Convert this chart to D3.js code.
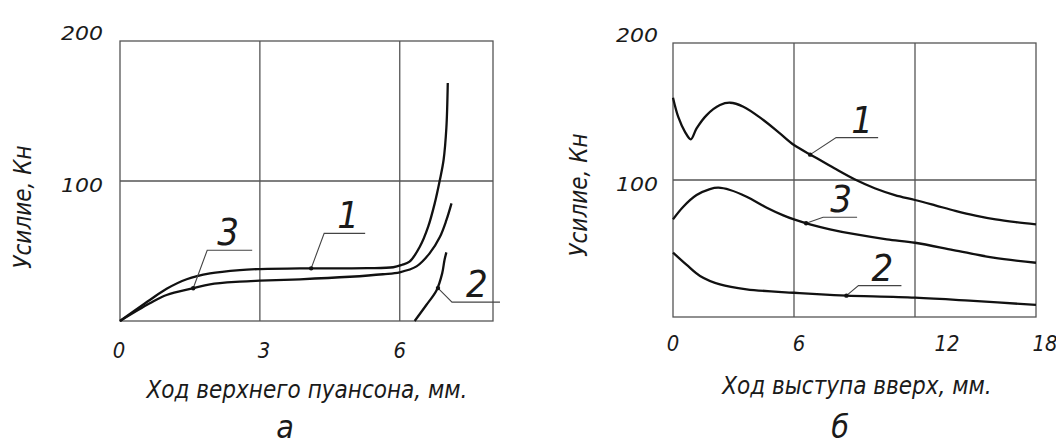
<!DOCTYPE html>
<html lang="ru">
<head>
    <meta charset="UTF-8">
    <title>Усилие — ход</title>
    <script src="https://d3js.org/d3.v7.min.js"></script>
    <style>
        body { margin: 0; background: #fff; }
        text { font-family: "DejaVu Sans Condensed", "DejaVu Sans", sans-serif; font-style: italic; fill: #1a1a1a; }
        .frame, .grid { stroke: #555; stroke-width: 1.3; fill: none; }
        .curve { stroke: #111; stroke-width: 2.3; fill: none; }
        .leader { stroke: #444; stroke-width: 1.1; fill: none; }
    </style>
</head>
<body>
    <div id="chart"></div>

    <script>
        // ----- data -----
        // panel а: ход верхнего пуансона (мм) -> усилие (кН)
        var aTicksX = [0, 3, 6];
        var aTicksY = [100, 200];
        var aCurve1 = [[0,0],[0.64,15],[1.0,23],[1.43,29.8],[1.93,34],[2.57,36.4],[3,37.1],[3.86,37.6],
                       [5.3,37.7],[5.86,38.4],[6.04,40],[6.21,42.4],[6.43,53],[6.61,67.4],[6.75,84],
                       [6.86,100.7],[6.94,115],[7.0,138],[7.03,170]];
        var aCurve2 = [[6.32,0],[6.57,11.4],[6.79,22],[6.91,34],[6.96,43.6],[7.0,49]];
        var aCurve3 = [[0,0],[0.64,12.6],[1.0,18.6],[1.57,23.4],[1.93,26.2],[2.57,28.1],[3,28.8],[3.86,29.8],
                       [4.93,31.6],[5.64,33.4],[6.0,34.8],[6.36,39],[6.64,48.3],[6.86,60],[7.0,72],[7.11,84]];

        // panel б: ход выступа вверх (мм) -> усилие (кН)
        var bTicksX = [0, 6, 12, 18];
        var bTicksY = [100, 200];
        var bCurve1 = [[0,160],[0.26,146],[0.6,135],[0.88,129.7],[1.17,137.7],[1.67,147.4],[2.33,154.7],
                       [2.83,156.4],[3.49,153.5],[4.48,143.8],[5.3,134],[6.0,125.5],[7,117],[8,108.5],
                       [9,100.5],[10,94],[11,89],[12,85.4],[13,81.5],[14,77.5],[15,74],[16,71.2],[17,69.2],[18,67.6]];
        var bCurve2 = [[0,47],[0.68,38],[1.34,30],[2.33,23.8],[3.65,20.2],[6,17.7],[7.78,16.2],[8.6,15.6],
                       [12,14.1],[14.7,11.9],[18,8.8]];
        var bCurve3 = [[0,71.3],[0.51,80.5],[1.17,89],[1.83,93.4],[2.25,94.4],[2.83,92.7],[3.65,87.8],
                       [4.65,79.8],[5.47,74.2],[6,71.2],[6.79,67.6],[7.78,64],[8.94,60.6],[10.6,56.7],
                       [12,54.2],[13.9,48.9],[15.88,43.3],[18,39.6]];

        var yTitle = "Усилие, Кн";

        var svg = d3.select("#chart")
            .append("svg")
            .attr("width", 1056)
            .attr("height", 447);

        svg.append("rect").attr("width", 1056).attr("height", 447).attr("fill", "#fff");

        function drawPanel(p) {
            var x = d3.scaleLinear().domain(p.xDomain).range(p.xRange);
            var y = d3.scaleLinear().domain([0, 200]).range(p.yRange);
            var g = svg.append("g");

            // grid lines
            g.selectAll(".gx")
                .data(p.ticksX.filter(function(d) { return d > p.xDomain[0] && d < p.xDomain[1]; }))
                .enter().append("line")
                .attr("class", "grid")
                .attr("x1", function(d) { return x(d); })
                .attr("x2", function(d) { return x(d); })
                .attr("y1", y(0)).attr("y2", y(200));
            g.selectAll(".gy")
                .data(p.ticksY.filter(function(d) { return d < 200; }))
                .enter().append("line")
                .attr("class", "grid")
                .attr("x1", x(p.xDomain[0])).attr("x2", x(p.xDomain[1]))
                .attr("y1", function(d) { return y(d); })
                .attr("y2", function(d) { return y(d); });
            g.append("rect")
                .attr("class", "frame")
                .attr("x", x(p.xDomain[0])).attr("y", y(200))
                .attr("width", x(p.xDomain[1]) - x(p.xDomain[0]))
                .attr("height", y(0) - y(200));

            // tick labels (wide drafting digits -> stretch to width)
            g.selectAll(".tx")
                .data(p.ticksX)
                .enter().append("text")
                .attr("x", function(d) { return x(d) + (p.xTickShift[d] || 0); })
                .attr("y", y(0) + p.xTickDrop)
                .attr("text-anchor", "middle")
                .attr("font-size", 21)
                .attr("textLength", function(d) { return String(d).length * 12.5; })
                .attr("lengthAdjust", "spacingAndGlyphs")
                .text(function(d) { return d; });
            g.selectAll(".ty")
                .data(p.ticksY)
                .enter().append("text")
                .attr("x", x(p.xDomain[0]) - p.yTickGap)
                .attr("y", function(d) { return y(d) + (d === 200 ? -1 : 11); })
                .attr("text-anchor", "end")
                .attr("font-size", 19)
                .attr("textLength", function(d) { return String(d).length * 14; })
                .attr("lengthAdjust", "spacingAndGlyphs")
                .text(function(d) { return d; });

            // curves
            var line = d3.line()
                .x(function(d) { return x(d[0]); })
                .y(function(d) { return y(d[1]); })
                .curve(d3.curveCatmullRom.alpha(0.5));
            g.selectAll(".curve")
                .data(p.curves)
                .enter().append("path")
                .attr("class", "curve")
                .attr("d", function(d) { return line(d); });

            // callouts: dot on the curve, slanted leader, shelf, number
            p.callouts.forEach(function(c) {
                var px = x(c.at[0]), py = y(c.at[1]);
                var ex = px + c.dx, ey = py + c.dy;
                g.append("path")
                    .attr("class", "leader")
                    .attr("d", "M" + px + "," + py + "L" + ex + "," + ey + "H" + (ex + c.shelf));
                g.append("circle").attr("cx", px).attr("cy", py).attr("r", 2.2).attr("fill", "#111");
                g.append("text")
                    .attr("x", ex + c.tx)
                    .attr("y", ey - 5)
                    .attr("text-anchor", "middle")
                    .attr("font-size", 38)
                    .text(c.label);
            });

            // titles
            g.append("text")
                .attr("transform", "translate(" + p.yTitlePos[0] + "," + p.yTitlePos[1] + ") rotate(-90)")
                .attr("text-anchor", "middle")
                .attr("font-size", 24)
                .text(yTitle);
            g.append("text")
                .attr("x", p.xTitlePos[0]).attr("y", p.xTitlePos[1])
                .attr("text-anchor", "middle")
                .attr("font-size", 24)
                .text(p.xTitle);
            g.append("text")
                .attr("x", p.letterPos[0]).attr("y", p.letterPos[1])
                .attr("text-anchor", "middle")
                .attr("font-size", 32)
                .text(p.letter);
        }

        drawPanel({
            xDomain: [0, 8], xRange: [120, 493], yRange: [321, 41],
            ticksX: aTicksX, ticksY: aTicksY,
            xTickShift: { 0: -1, 3: 4, 6: 0 }, xTickDrop: 37, yTickGap: 17,
            curves: [aCurve1, aCurve2, aCurve3],
            callouts: [
                { label: "3", at: [1.57, 23.4], dx: 14, dy: -38, shelf: 45, tx: 21 },
                { label: "1", at: [4.1, 37.6], dx: 13, dy: -35, shelf: 41, tx: 24 },
                { label: "2", at: [6.82, 23.5], dx: 14, dy: 14, shelf: 48, tx: 25 }
            ],
            xTitle: "Ход верхнего пуансона, мм.", xTitlePos: [307, 398],
            yTitlePos: [31, 207],
            letter: "а", letterPos: [285, 438]
        });

        drawPanel({
            xDomain: [0, 18], xRange: [673, 1036], yRange: [317, 43],
            ticksX: bTicksX, ticksY: bTicksY,
            xTickShift: { 0: 0, 6: 5, 12: 32, 18: 9 }, xTickDrop: 34, yTickGap: 15,
            curves: [bCurve1, bCurve2, bCurve3],
            callouts: [
                { label: "1", at: [6.8, 118.5], dx: 26, dy: -17, shelf: 42, tx: 26 },
                { label: "3", at: [6.6, 68.4], dx: 17, dy: -6, shelf: 34, tx: 18 },
                { label: "2", at: [8.6, 15.6], dx: 12, dy: -10, shelf: 43, tx: 24 }
            ],
            xTitle: "Ход выступа вверх, мм.", xTitlePos: [857, 394],
            yTitlePos: [587, 195],
            letter: "б", letterPos: [840, 438]
        });
    </script>
</body>
</html>
